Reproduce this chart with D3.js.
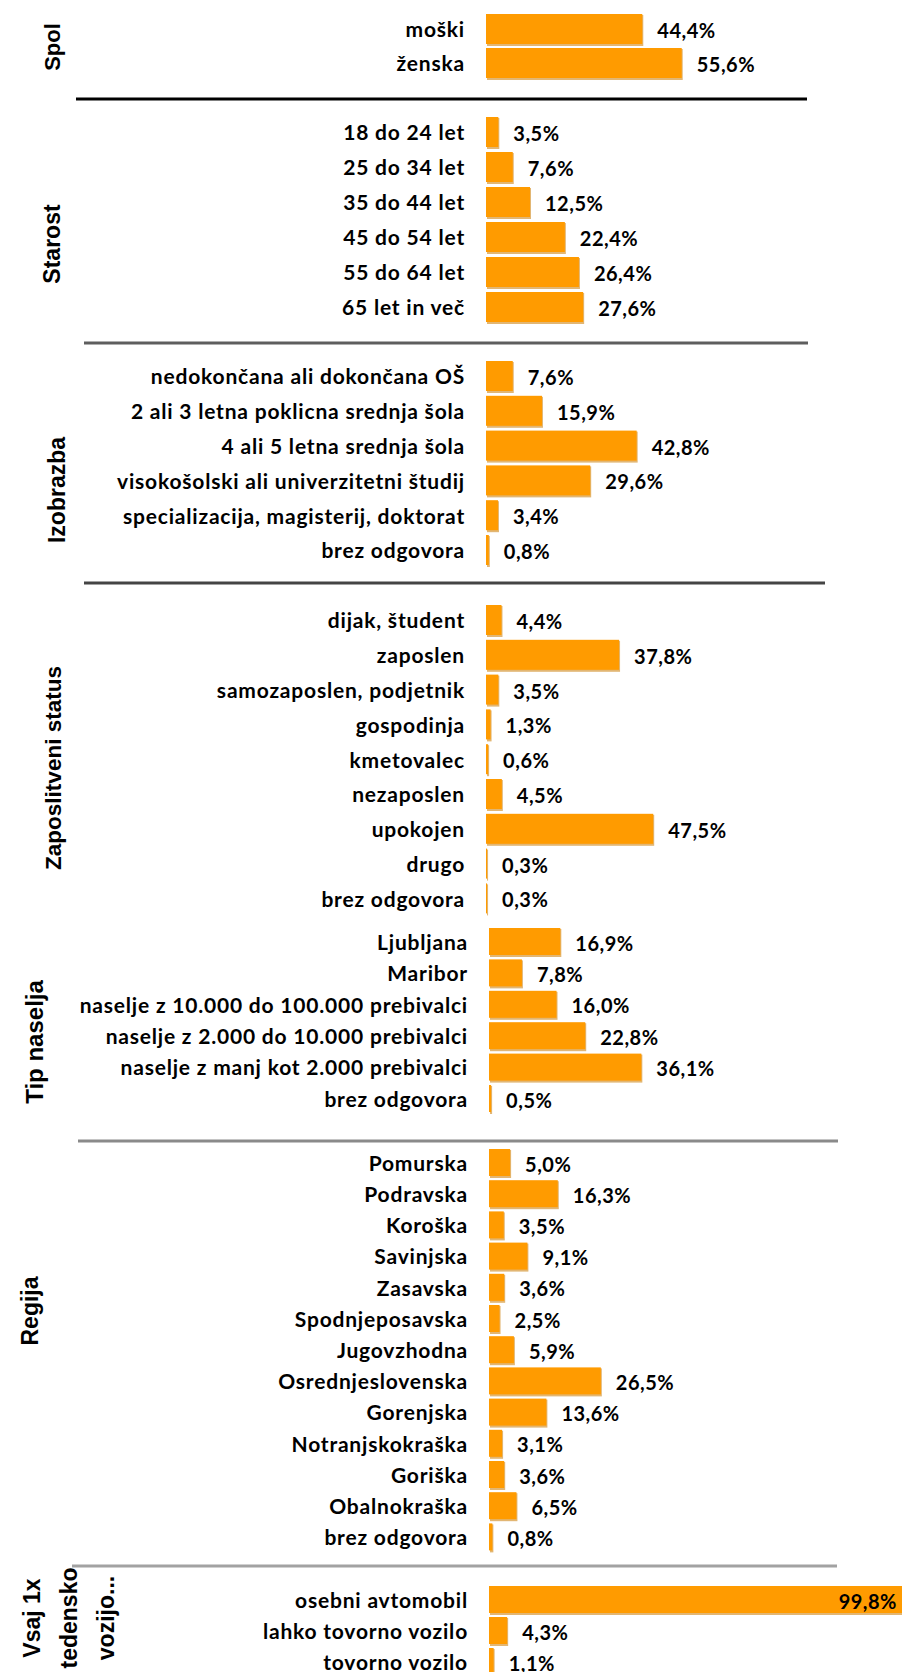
<!DOCTYPE html>
<html>
<head>
<meta charset="utf-8">
<script src="https://cdn.jsdelivr.net/npm/d3@7"></script>
<style>
  body { margin: 0; background: #fff; }
  svg text { font-family: Lato, "Liberation Sans", sans-serif; font-weight: bold; fill: #000; }
</style>
</head>
<body>
<div id="chart"></div>
<script>
// data
const spolLabels = ['moški', 'ženska'];
const spolValues = [44.4, 55.6];

const starostLabels = ['18 do 24 let', '25 do 34 let', '35 do 44 let', '45 do 54 let', '55 do 64 let', '65 let in več'];
const starostValues = [3.5, 7.6, 12.5, 22.4, 26.4, 27.6];

const izobrazbaLabels = ['nedokončana ali dokončana OŠ', '2 ali 3 letna poklicna srednja šola', '4 ali 5 letna srednja šola',
  'visokošolski ali univerzitetni študij', 'specializacija, magisterij, doktorat', 'brez odgovora'];
const izobrazbaValues = [7.6, 15.9, 42.8, 29.6, 3.4, 0.8];

const statusLabels = ['dijak, študent', 'zaposlen', 'samozaposlen, podjetnik', 'gospodinja', 'kmetovalec',
  'nezaposlen', 'upokojen', 'drugo', 'brez odgovora'];
const statusValues = [4.4, 37.8, 3.5, 1.3, 0.6, 4.5, 47.5, 0.3, 0.3];

const naseljeLabels = ['Ljubljana', 'Maribor', 'naselje z 10.000 do 100.000 prebivalci', 'naselje z 2.000 do 10.000 prebivalci',
  'naselje z manj kot 2.000 prebivalci', 'brez odgovora'];
const naseljeValues = [16.9, 7.8, 16.0, 22.8, 36.1, 0.5];

const regijaLabels = ['Pomurska', 'Podravska', 'Koroška', 'Savinjska', 'Zasavska', 'Spodnjeposavska', 'Jugovzhodna',
  'Osrednjeslovenska', 'Gorenjska', 'Notranjskokraška', 'Goriška', 'Obalnokraška', 'brez odgovora'];
const regijaValues = [5.0, 16.3, 3.5, 9.1, 3.6, 2.5, 5.9, 26.5, 13.6, 3.1, 3.6, 6.5, 0.8];

const vozilaLabels = ['osebni avtomobil', 'lahko tovorno vozilo', 'tovorno vozilo'];
const vozilaValues = [99.8, 4.3, 1.1];

const width = 902;
const height = 1672;

// the picture is two stacked charts with slightly different scales
let xTop = d3.scaleLinear().domain([0, 100]).range([486, 486 + 352]);
let xBottom = d3.scaleLinear().domain([0, 100]).range([489, 489 + 422]);

let fmt = function(v) {
  return d3.format('.1f')(v).replace('.', ',') + '%';
};

// layout of each block
let sections = [
  {title: ['Spol'], labels: spolLabels, values: spolValues, x: xTop, y0: 14, pitch: 34, bar: 30, tx: 52, ty: 47, ts: 22},
  {title: ['Starost'], labels: starostLabels, values: starostValues, x: xTop, y0: 117, pitch: 35, bar: 30, tx: 52, ty: 244, ts: 23},
  {title: ['Izobrazba'], labels: izobrazbaLabels, values: izobrazbaValues, x: xTop, y0: 361, pitch: 34.8, bar: 30, tx: 57, ty: 490, ts: 23},
  {title: ['Zaposlitveni status'], labels: statusLabels, values: statusValues, x: xTop, y0: 605, pitch: 34.8, bar: 30, tx: 53, ty: 768, ts: 22.5},
  {title: ['Tip naselja'], labels: naseljeLabels, values: naseljeValues, x: xBottom, y0: 928, pitch: 31.4, bar: 27, tx: 35, ty: 1042, ts: 24},
  {title: ['Regija'], labels: regijaLabels, values: regijaValues, x: xBottom, y0: 1149, pitch: 31.2, bar: 27, tx: 30, ty: 1311, ts: 23},
  {title: ['Vsaj 1x', 'tedensko', 'vozijo...'], labels: vozilaLabels, values: vozilaValues, x: xBottom, y0: 1586, pitch: 31, bar: 27, tx: 32, ty: 1618, ts: 23}
];

// separators between blocks
let separators = [
  {y: 99, x1: 76, x2: 807, color: '#000', w: 3},
  {y: 343, x1: 84, x2: 808, color: '#5e5e5e', w: 3},
  {y: 583, x1: 84, x2: 825, color: '#444', w: 3},
  {y: 1141, x1: 78, x2: 838, color: '#8a8a8a', w: 3},
  {y: 1566, x1: 72, x2: 837, color: '#a2a2a2', w: 3}
];

let svg = d3.select('#chart').append('svg')
    .attr('width', width)
    .attr('height', height);

svg.selectAll('line.sep')
    .data(separators)
  .enter().append('line')
    .attr('class', 'sep')
    .attr('x1', d => d.x1)
    .attr('x2', d => d.x2)
    .attr('y1', d => d.y)
    .attr('y2', d => d.y)
    .style('stroke', d => d.color)
    .style('stroke-width', d => d.w);

sections.forEach(function(s) {
  let n = s.labels.length;
  let pad = 1 - s.bar / s.pitch;
  let r0 = s.y0 - pad * s.pitch;
  let y = d3.scaleBand()
    .domain(s.labels)
    .range([r0, r0 + (n + pad) * s.pitch])
    .paddingInner(pad)
    .paddingOuter(pad);

  let data = s.labels.map((l, i) => ({label: l, value: s.values[i]}));
  let g = svg.append('g');
  let x0 = s.x(0);

  // tan edge under the bars
  g.selectAll('rect.shadow')
      .data(data)
    .enter().append('rect')
      .attr('class', 'shadow')
      .attr('x', x0 + 1)
      .attr('y', d => y(d.label) + 1)
      .attr('width', d => Math.min(s.x(d.value), width) - x0)
      .attr('height', y.bandwidth() + 1)
      .style('fill', '#e2b673');

  g.selectAll('rect.bar')
      .data(data)
    .enter().append('rect')
      .attr('class', 'bar')
      .attr('x', x0)
      .attr('y', d => y(d.label))
      .attr('width', d => Math.min(s.x(d.value), width) - x0)
      .attr('height', y.bandwidth())
      .style('fill', '#ff9b00');

  // category labels
  g.selectAll('text.cat')
      .data(data)
    .enter().append('text')
      .attr('class', 'cat')
      .attr('x', x0 - 21)
      .attr('y', d => y(d.label) + y.bandwidth() / 2 + 1)
      .attr('dy', '0.35em')
      .attr('text-anchor', 'end')
      .style('font-size', '21px')
      .style('letter-spacing', '0.8px')
      .text(d => d.label);

  // value labels, inside the bar when there is no room
  g.selectAll('text.val')
      .data(data)
    .enter().append('text')
      .attr('class', 'val')
      .attr('x', d => s.x(d.value) + 70 > width ? width - 5 : s.x(d.value) + 15)
      .attr('text-anchor', d => s.x(d.value) + 70 > width ? 'end' : 'start')
      .attr('y', d => y(d.label) + y.bandwidth() / 2 + 2)
      .attr('dy', '0.35em')
      .style('font-size', '20px')
      .style('letter-spacing', '0.5px')
      .text(d => fmt(d.value));

  // rotated block title
  let t = svg.append('text')
      .attr('transform', 'translate(' + s.tx + ',' + s.ty + ') rotate(-90)')
      .attr('text-anchor', 'middle')
      .style('font-family', '"Liberation Sans", Arial, sans-serif')
      .style('font-size', s.ts + 'px');

  t.selectAll('tspan')
      .data(s.title)
    .enter().append('tspan')
      .attr('x', 0)
      .attr('y', (d, i) => i * 37)
      .attr('dy', '0.35em')
      .text(d => d);
});
</script>
</body>
</html>
